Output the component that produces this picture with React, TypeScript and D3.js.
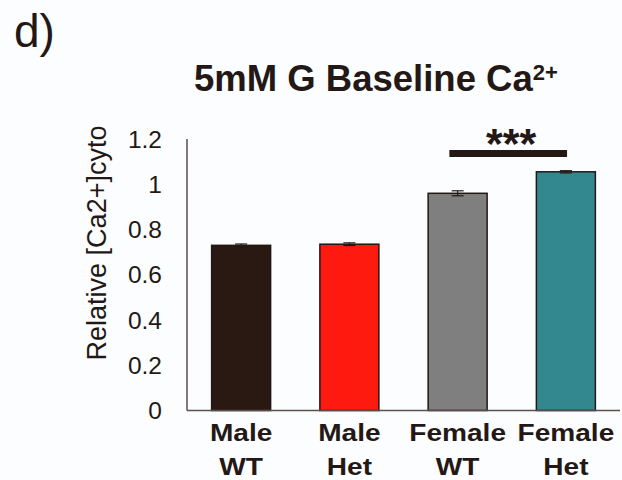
import React, { useEffect, useRef } from "react";
import * as d3 from "d3";

const groups = ["Male WT", "Male Het", "Female WT", "Female Het"];
const means = [0.73, 0.735, 0.96, 1.055];
const errors = [0.006, 0.006, 0.011, 0.005];
const fills = ["#2a1813", "#ff1a10", "#7f7f7f", "#338890"];
const yTicks = [0, 0.2, 0.4, 0.6, 0.8, 1, 1.2];

const INK = "#231815";
const FONT = "Liberation Sans, Arial, sans-serif";

export default function App() {
  const svgRef = useRef<SVGSVGElement>(null);

  useEffect(() => {
    const svg = d3.select(svgRef.current);
    svg.selectAll("*").remove();

    const x = d3
      .scaleBand()
      .domain(groups)
      .range([187, 620])
      .paddingInner(0.455)
      .paddingOuter(0.2275);

    const y = d3.scaleLinear().domain([0, 1.2]).range([410.5, 139]);

    svg.append("rect").attr("width", 622).attr("height", 480).attr("fill", "#fbfdfe");

    // panel letter
    svg
      .append("text")
      .attr("x", 14)
      .attr("y", 47)
      .attr("font-family", FONT)
      .attr("font-size", 46)
      .attr("fill", INK)
      .text("d)");

    // title
    const title = svg
      .append("text")
      .attr("x", 194)
      .attr("y", 91)
      .attr("font-family", FONT)
      .attr("font-weight", "bold")
      .attr("font-size", 36.5)
      .attr("fill", INK);
    title.append("tspan").text("5mM G Baseline Ca");
    title
      .append("tspan")
      .attr("dy", -11)
      .attr("font-size", 22)
      .text("2+");

    // bars
    svg
      .append("g")
      .selectAll("rect")
      .data(groups)
      .enter()
      .append("rect")
      .attr("x", (d) => x(d)!)
      .attr("width", x.bandwidth())
      .attr("y", (d, i) => y(means[i]))
      .attr("height", (d, i) => y(0) - y(means[i]))
      .attr("fill", (d, i) => fills[i])
      .attr("stroke", INK)
      .attr("stroke-width", 1.5);

    // error bars
    const err = svg.append("g").attr("stroke", INK).attr("stroke-width", 1.2);
    groups.forEach((g, i) => {
      const cx = x(g)! + x.bandwidth() / 2;
      const top = y(means[i] + errors[i]);
      const bot = y(means[i] - errors[i]);
      err.append("line").attr("x1", cx).attr("x2", cx).attr("y1", top).attr("y2", bot);
      err.append("line").attr("x1", cx - 6).attr("x2", cx + 6).attr("y1", top).attr("y2", top);
      err.append("line").attr("x1", cx - 6).attr("x2", cx + 6).attr("y1", bot).attr("y2", bot);
    });

    // axes
    svg
      .append("line")
      .attr("x1", 187)
      .attr("x2", 187)
      .attr("y1", y(1.2))
      .attr("y2", y(0))
      .attr("stroke", "#5b4f4b")
      .attr("stroke-width", 1.5);
    svg
      .append("line")
      .attr("x1", 187)
      .attr("x2", 620)
      .attr("y1", y(0))
      .attr("y2", y(0))
      .attr("stroke", "#5b4f4b")
      .attr("stroke-width", 1.5);

    svg
      .append("g")
      .selectAll("text")
      .data(yTicks)
      .enter()
      .append("text")
      .attr("x", 162)
      .attr("y", (d) => y(d))
      .attr("dy", "0.35em")
      .attr("text-anchor", "end")
      .attr("font-family", FONT)
      .attr("font-size", 24.5)
      .attr("fill", INK)
      .text((d) => String(d));

    // y label
    svg
      .append("text")
      .attr("transform", "translate(106,243) rotate(-90)")
      .attr("text-anchor", "middle")
      .attr("font-family", FONT)
      .attr("font-size", 27)
      .attr("fill", INK)
      .text("Relative [Ca2+]cyto");

    // category labels (slightly wide lettering, as in the source)
    const lab = svg.append("g");
    groups.forEach((g) => {
      const cx = x(g)! + x.bandwidth() / 2;
      const parts = g.split(" ");
      parts.forEach((p, k) => {
        lab
          .append("text")
          .attr("transform", `translate(${cx},${k === 0 ? 441 : 475}) scale(1.17,1)`)
          .attr("text-anchor", "middle")
          .attr("font-family", FONT)
          .attr("font-weight", "bold")
          .attr("font-size", 24)
          .attr("fill", INK)
          .text(p);
      });
    });

    // significance
    const x0 = x("Female WT")! + x.bandwidth() * 0.36;
    const x1 = x("Female Het")! + x.bandwidth() * 0.52;
    svg
      .append("rect")
      .attr("x", x0)
      .attr("y", 150)
      .attr("width", x1 - x0)
      .attr("height", 7)
      .attr("fill", INK);
    svg
      .append("text")
      .attr("x", (x0 + x1) / 2 + 3)
      .attr("y", 158)
      .attr("text-anchor", "middle")
      .attr("font-family", FONT)
      .attr("font-weight", "bold")
      .attr("font-size", 43)
      .attr("fill", INK)
      .text("***");
  }, []);

  return (
    <svg
      ref={svgRef}
      width={622}
      height={480}
      style={{ position: "absolute", left: 0, top: 0, display: "block" }}
    />
  );
}
